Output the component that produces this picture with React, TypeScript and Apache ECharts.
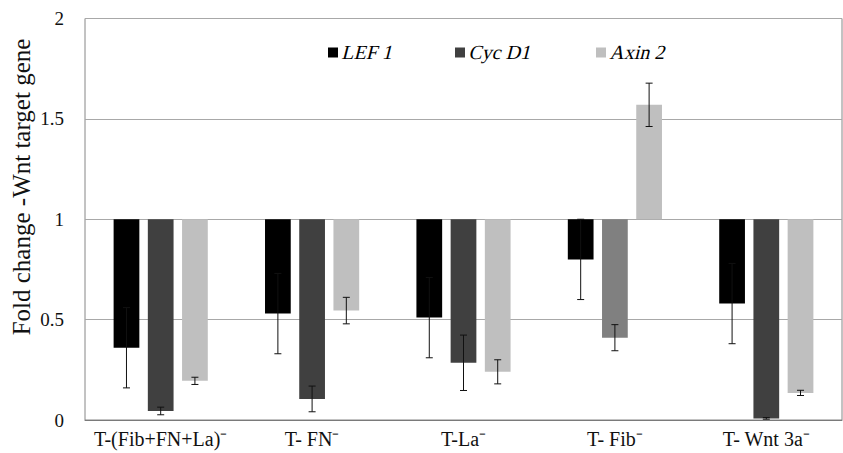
import React, { useEffect, useRef } from "react";
import * as echarts from "echarts";

const categories = ["T-(Fib+FN+La)⁻", "T- FN⁻", "T-La⁻", "T- Fib⁻", "T- Wnt 3a⁻"];
const geneNames = ["LEF 1", "Cyc D1", "Axin 2"];
const lef1 = [0.36, 0.53, 0.51, 0.8, 0.58];
const lef1Err = [0.2, 0.2, 0.2, 0.2, 0.2];
const cycD1 = [0.045, 0.105, 0.285, 0.41, 0.008];
const cycD1Err = [0.019, 0.064, 0.138, 0.065, 0.004];
const axin2 = [0.195, 0.545, 0.24, 1.57, 0.135];
const axin2Err = [0.018, 0.066, 0.06, 0.108, 0.013];
const yTicks = [0, 0.5, 1, 1.5, 2];
const baseline = 1;

const SERIF = '"Liberation Serif", "Times New Roman", serif';
const geneColors = ["#000000", "#404040", "#bfbfbf"];
const highlightIndex = 3; // Cyc D1 of T- Fib is a lighter grey in the reference
const legendX = [328, 455, 596];

function makeRenderItem(k: number) {
  return (params: any, api: any) => {
    const idx = api.value(0);
    const val = api.value(1);
    const err = api.value(2);
    const band = api.size([1, 0])[0];
    const w = band * 0.17;
    const step = band * 0.226;
    const base = api.coord([idx, baseline]);
    const cx = base[0] + (k - 1) * step;
    const yBase = base[1];
    const yVal = api.coord([idx, val])[1];
    const yHi = api.coord([idx, val + err])[1];
    const yLo = api.coord([idx, val - err])[1];
    const cap = 3.5;
    const errStyle = { stroke: "#111111", lineWidth: 1 };
    return {
      type: "group",
      children: [
        {
          type: "rect",
          shape: { x: cx - w / 2, y: Math.min(yBase, yVal), width: w, height: Math.abs(yVal - yBase) },
          style: { fill: api.visual("color") },
        },
        { type: "line", shape: { x1: cx, y1: yHi, x2: cx, y2: yLo }, style: errStyle },
        { type: "line", shape: { x1: cx - cap, y1: yHi, x2: cx + cap, y2: yHi }, style: errStyle },
        { type: "line", shape: { x1: cx - cap, y1: yLo, x2: cx + cap, y2: yLo }, style: errStyle },
      ],
    };
  };
}

export default function App() {
  const ref = useRef<HTMLDivElement>(null);
  useEffect(() => {
    if (!ref.current) return;
    const chart = echarts.init(ref.current, null, { renderer: "svg" });
    const values = [lef1, cycD1, axin2];
    const errs = [lef1Err, cycD1Err, axin2Err];
    const series = geneNames.map((name, k) => ({
      type: "custom",
      name,
      itemStyle: { color: geneColors[k] },
      renderItem: makeRenderItem(k),
      encode: { x: 0, y: 1 },
      data: categories.map((_, i) => {
        const item: any = { value: [i, values[k][i], errs[k][i]] };
        if (k === 1 && i === highlightIndex) item.itemStyle = { color: "#808080" };
        return item;
      }),
      z: 2 + k,
    }));
    // Legend drawn as graphic so the (unavailable) italic serif face can be imitated with a skew
    const legendEls: any[] = [];
    geneNames.forEach((name, k) => {
      legendEls.push({
        type: "rect",
        shape: { x: legendX[k], y: 47.5, width: 10, height: 10 },
        style: { fill: geneColors[k] },
      });
      legendEls.push({
        type: "text",
        x: legendX[k] + 15,
        y: 52.5,
        skewX: -0.25,
        style: {
          text: name,
          fontFamily: SERIF,
          fontSize: 20,
          fill: "#000",
          align: "left",
          verticalAlign: "middle",
        },
      });
    });
    chart.setOption({
      animation: false,
      textStyle: { fontFamily: SERIF },
      grid: {
        left: 85,
        right: 1,
        top: 18.5,
        bottom: 33,
        show: true,
        borderColor: "#868686",
        borderWidth: 1,
      },
      xAxis: {
        type: "category",
        data: categories,
        axisTick: { show: false },
        axisLine: { lineStyle: { color: "#7a7a7a" } },
        axisLabel: { fontFamily: SERIF, fontSize: 20, color: "#111", margin: 9, interval: 0 },
      },
      yAxis: {
        type: "value",
        min: yTicks[0],
        max: yTicks[yTicks.length - 1],
        interval: 0.5,
        axisLine: { show: false },
        axisTick: { show: false },
        splitLine: { lineStyle: { color: "#a8a8a8" } },
        axisLabel: { fontFamily: SERIF, fontSize: 19, color: "#111", margin: 21 },
      },
      graphic: [
        {
          type: "text",
          x: 21,
          y: 187,
          rotation: Math.PI / 2,
          style: {
            text: "Fold change -Wnt target gene",
            fontFamily: SERIF,
            fontSize: 25,
            fill: "#111",
            align: "center",
            verticalAlign: "middle",
          },
        },
        ...legendEls,
      ],
      series,
    });
    return () => chart.dispose();
  }, []);
  return <div ref={ref} style={{ position: "absolute", left: 0, top: 0, width: 843, height: 453 }} />;
}
